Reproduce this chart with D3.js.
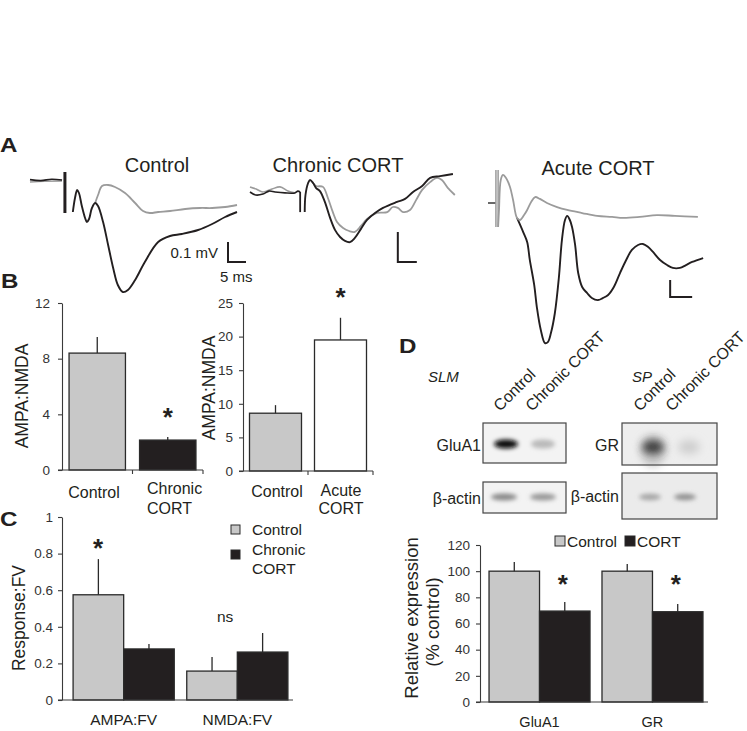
<!DOCTYPE html>
<html><head><meta charset="utf-8">
<script src="https://cdn.jsdelivr.net/npm/d3@7"></script>
<style>
html,body{margin:0;padding:0;background:#fff;}
svg{display:block;font-family:"Liberation Sans",Arial,Helvetica,sans-serif;}
</style></head><body>
<svg id="fig" width="747" height="731"></svg>
<script>
// ---------------- DATA ----------------
// Panel A: field potential traces, [time (ms), amplitude (mV)]
const traceTitles = ["Control", "Chronic CORT", "Acute CORT"];
const controlBaseBlack = [[0,0.002],[3,-0.003],[6,0.004],[8.9,0]];
const controlBaseGrey = [[0,-0.01],[4,-0.006],[8.9,-0.005]];
const controlArtifact = [[9.7,0.04],[9.7,-0.165]];
const controlBlack = [[11.9,-0.16],[12.5,-0.09],[13.1,-0.05],[13.6,-0.065],[14.4,-0.13],[15.3,-0.19],[15.8,-0.21],[16.4,-0.195],[17.2,-0.14],[18.1,-0.115],[18.9,-0.13],[20.3,-0.21],[21.7,-0.325],[23.1,-0.44],[24.4,-0.525],[25.8,-0.56],[27.2,-0.55],[29.2,-0.5],[31.9,-0.41],[35.6,-0.31],[38.9,-0.28],[42.2,-0.27],[46.7,-0.25],[50.6,-0.22],[54.2,-0.185],[57.5,-0.16]];
const controlGrey = [[18.1,-0.115],[18.9,-0.075],[20,-0.03],[21.7,-0.025],[23.6,-0.035],[26.4,-0.065],[29.2,-0.115],[31.4,-0.155],[33.3,-0.165],[35.6,-0.16],[38.9,-0.155],[43.1,-0.145],[47.2,-0.14],[50.6,-0.14],[54.2,-0.135],[57.5,-0.125]];

const chronicBaseBlack = [[0,0],[1.5,-0.01],[3.4,-0.007],[5,0.003],[6.6,0],[9.2,-0.003],[11.8,-0.003],[12.6,0.003],[13.2,0]];
const chronicBaseGrey = [[0,0.017],[1.6,0.01],[3.4,0],[5.8,0.01],[7.9,0.017],[10,0.003],[11.8,-0.003]];
const chronicArtifact = [[13.2,0],[13.2,-0.067]];
const chronicBlack = [[14.4,-0.067],[14.6,-0.01],[15.3,0.03],[15.8,0.04],[16.6,0.03],[17.4,0.013],[18.4,0.003],[19.7,-0.033],[21.1,-0.087],[22.4,-0.127],[23.7,-0.15],[25,-0.163],[26.3,-0.167],[27.6,-0.153],[29.2,-0.123],[30.8,-0.093],[32.9,-0.07],[35,-0.053],[38.7,-0.033],[40.8,-0.023],[42.9,0],[45.3,0.02],[47.4,0.047],[50,0.053],[53.4,0.06]];
const chronicGrey = [[16.6,0.03],[17.4,0.02],[19.2,0.017],[20.5,-0.02],[21.8,-0.067],[22.9,-0.1],[24.5,-0.12],[26.1,-0.13],[27.6,-0.133],[29.2,-0.113],[30.8,-0.09],[33.4,-0.07],[36.1,-0.067],[37.6,-0.05],[38.9,-0.053],[40.3,-0.067],[42.1,-0.06],[43.7,-0.027],[45.3,0.007],[47.4,0.033],[49.2,0.047],[50.5,0.04],[52.1,0.013],[53.9,-0.01]];

const acuteBaseBlack = [[0,0],[1.8,0]];
const acuteArtifactA = [[1.8,0.194],[1.8,-0.141]];
const acuteArtifactB = [[2.3,0.194],[2.3,-0.141]];
const acuteGrey = [[2.3,-0.141],[2.5,-0.041],[2.9,0.135],[3.4,0.165],[4.1,0.147],[5,0.094],[5.7,0.018],[6.6,-0.088],[7.3,-0.1],[8.2,-0.071],[8.9,-0.041],[9.8,0.006],[10.7,0.035],[11.8,0.024],[13.4,0],[15.7,-0.024],[18,-0.041],[21.4,-0.059],[24.8,-0.076],[28.2,-0.082],[30.7,-0.088],[34.5,-0.082],[38.4,-0.071],[42.5,-0.076],[47.7,-0.082]];
const acuteBlack = [[6.6,-0.088],[8,-0.171],[8.9,-0.229],[9.5,-0.335],[10.5,-0.482],[11.1,-0.612],[12,-0.747],[12.95,-0.824],[13.6,-0.818],[14.3,-0.765],[15.2,-0.647],[16.1,-0.441],[16.8,-0.218],[17.5,-0.1],[18,-0.076],[18.6,-0.1],[19.1,-0.141],[19.8,-0.247],[20.5,-0.412],[21.4,-0.494],[22.5,-0.529],[23.6,-0.559],[25,-0.571],[26.1,-0.559],[27.3,-0.541],[28.6,-0.494],[30,-0.412],[31.4,-0.335],[32.7,-0.276],[34.1,-0.247],[35.2,-0.241],[36.4,-0.259],[37.5,-0.288],[39.1,-0.335],[40.7,-0.365],[42,-0.382],[43.6,-0.382],[45,-0.365],[46.4,-0.347],[48.9,-0.324]];

const scaleBarMV = 0.1, scaleBarMS = 5;
const scaleBarCorners = [[55,-0.41],[38.9,-0.233],[41.4,-0.553]];

// Panel B
const bLeftCats = ["Control", "Chronic CORT"];
const bLeftVals = [8.4, 2.15];
const bLeftErrs = [1.15, 0.22];
const bLeftTicks = [0, 4, 8, 12];
const bRightCats = ["Control", "Acute CORT"];
const bRightVals = [8.6, 19.5];
const bRightErrs = [1.2, 3.3];
const bRightTicks = [0, 5, 10, 15, 20, 25];

// Panel C
const cCats = ["AMPA:FV", "NMDA:FV"];
const cSeries = ["Control", "Chronic CORT"];
const cControl = [0.575, 0.158];
const cControlErr = [0.195, 0.077];
const cChronic = [0.279, 0.262];
const cChronicErr = [0.027, 0.104];
const cTicks = [0, 0.2, 0.4, 0.6, 0.8, 1];

// Panel D
const blotLanes = ["Control", "Chronic CORT"];
const gluA1Bands = [0.97, 0.38];
const slmActinBands = [0.55, 0.5];
const grBands = [0.82, 0.3];
const spActinBands = [0.45, 0.52];
const dCats = ["GluA1", "GR"];
const dSeries = ["Control", "CORT"];
const dControl = [100, 100];
const dControlErr = [7, 5.5];
const dCort = [69.5, 69];
const dCortErr = [7, 6];
const dTicks = [0, 20, 40, 60, 80, 100, 120];

// ---------------- DRAWING ----------------
const svg = d3.select("#fig");
const INK = "#231f20", AX = "#3a3a3a", GREYBAR = "#c8c8c8", GREYTRACE = "#9b9b9b";

function text(x, y, s, o = {}) {
  const t = svg.append("text").attr("x", x).attr("y", y).text(s)
    .attr("font-size", o.size || 16).attr("fill", o.fill || INK)
    .attr("text-anchor", o.anchor || "start");
  if (o.weight) t.attr("font-weight", o.weight);
  if (o.style) t.attr("font-style", o.style);
  if (o.transform) t.attr("transform", o.transform).attr("x", 0).attr("y", 0);
  return t;
}
function letter(x, y, s) {
  text(0, 0, s, {size: 21, weight: "bold", transform: `translate(${x},${y}) scale(1.15,1)`});
}
function star(x, y, size = 26) { text(x, y, "*", {size, weight: "bold", anchor: "middle"}); }

letter(0, 152, "A"); letter(1, 288, "B"); letter(0, 526, "C"); letter(399, 353, "D");

// ----- Panel A -----
const aPanels = [
  {x0: 30, pxms: 3.6, y0: 180, pxmv: 200, title: [157, 172]},
  {x0: 250, pxms: 3.8, y0: 192, pxmv: 300, title: [338, 172]},
  {x0: 488, pxms: 4.4, y0: 203, pxmv: 170, title: [598, 175]}
];
const aScales = aPanels.map(p => ({
  x: d3.scaleLinear().domain([0, 50]).range([p.x0, p.x0 + 50 * p.pxms]),
  y: d3.scaleLinear().domain([0, -0.5]).range([p.y0, p.y0 + 0.5 * p.pxmv])
}));
function trace(i, data, color, w, curve = d3.curveCatmullRom.alpha(0.5)) {
  const s = aScales[i];
  const line = d3.line().x(d => s.x(d[0])).y(d => s.y(d[1])).curve(curve);
  svg.append("path").attr("d", line(data)).attr("fill", "none")
    .attr("stroke", color).attr("stroke-width", w).attr("stroke-linejoin", "round");
}
traceTitles.forEach((t, i) => text(aPanels[i].title[0], aPanels[i].title[1], t, {size: 20, anchor: "middle"}));

// control
trace(0, controlBaseGrey, GREYTRACE, 1.6);
trace(0, controlBaseBlack, INK, 1.6);
trace(0, controlArtifact, INK, 3, d3.curveLinear);
trace(0, controlGrey, GREYTRACE, 1.8);
trace(0, controlBlack, INK, 1.9);
// chronic
trace(1, chronicBaseGrey, GREYTRACE, 1.6);
trace(1, chronicGrey, GREYTRACE, 1.8);
trace(1, chronicBaseBlack, INK, 1.6);
trace(1, chronicArtifact, INK, 1.8, d3.curveLinear);
trace(1, chronicBlack, INK, 1.9);
// acute
trace(2, acuteBaseBlack, "#444", 1.6, d3.curveLinear);
trace(2, acuteBlack, INK, 1.9);
trace(2, acuteArtifactA, GREYTRACE, 1.5, d3.curveLinear);
trace(2, acuteArtifactB, GREYTRACE, 1.5, d3.curveLinear);
trace(2, acuteGrey, GREYTRACE, 1.8);
// scale bars
scaleBarCorners.forEach((c, i) => {
  const s = aScales[i];
  const pts = [[c[0], c[1] + scaleBarMV], c, [c[0] + scaleBarMS, c[1]]];
  svg.append("path").attr("d", d3.line().x(d => s.x(d[0])).y(d => s.y(d[1]))(pts))
    .attr("fill", "none").attr("stroke", INK).attr("stroke-width", 2);
});
text(218, 258, "0.1 mV", {size: 15, anchor: "end"});
text(220, 282, "5 ms", {size: 15});

// ----- generic axis helper -----
function yAxis(scale, x, ticks, fmt, pad) {
  const g = svg.append("g").attr("transform", `translate(${x},0)`)
    .call(d3.axisLeft(scale).tickValues(ticks).tickFormat(fmt).tickSize(4).tickSizeOuter(0).tickPadding(pad));
  g.select(".domain").attr("stroke", AX).attr("stroke-width", 1.1);
  g.selectAll(".tick line").attr("stroke", AX).attr("stroke-width", 1.1);
  g.selectAll(".tick text").attr("font-size", 13.5).attr("fill", "#333")
    .attr("font-family", '"Liberation Sans",Arial,sans-serif');
  return g;
}
function baseline(x0, x1, y, catTicks) {
  svg.append("line").attr("x1", x0).attr("x2", x1).attr("y1", y).attr("y2", y)
    .attr("stroke", AX).attr("stroke-width", 1.1);
  (catTicks || []).forEach(tx => svg.append("line").attr("x1", tx).attr("x2", tx)
    .attr("y1", y).attr("y2", y + 4).attr("stroke", AX).attr("stroke-width", 1.1));
}
function bar(x, w, y, y0, fill) {
  svg.append("rect").attr("x", x).attr("y", y).attr("width", w).attr("height", y0 - y)
    .attr("fill", fill).attr("stroke", "#2a2a2a").attr("stroke-width", 1.3);
}
function err(x, yTop, yBar) {
  svg.append("line").attr("x1", x).attr("x2", x).attr("y1", yTop).attr("y2", yBar)
    .attr("stroke", "#2a2a2a").attr("stroke-width", 1.3);
}

// ----- Panel B left -----
{
  const y = d3.scaleLinear().domain([0, 12]).range([470, 303]);
  const x = d3.scaleBand().domain(bLeftCats).range([62, 203]).paddingInner(0.2).paddingOuter(0.1);
  const fills = [GREYBAR, INK];
  bLeftCats.forEach((c, i) => {
    bar(x(c), x.bandwidth(), y(bLeftVals[i]), y(0), fills[i]);
    err(x(c) + x.bandwidth() / 2, y(bLeftVals[i] + bLeftErrs[i]), y(bLeftVals[i]));
  });
  yAxis(y, 62, bLeftTicks, d3.format("d"), 8);
  baseline(58, 203, y(0), [x.step() + 62, 203]);
  star(x(bLeftCats[1]) + x.bandwidth() / 2, 426);
  text(94, 498, "Control", {anchor: "middle"});
  text(147, 494, "Chronic"); text(147, 514, "CORT");
  text(0, 0, "AMPA:NMDA", {size: 17.5, anchor: "middle", transform: "translate(28,396) rotate(-90)"});
}
// ----- Panel B right -----
{
  const y = d3.scaleLinear().domain([0, 25]).range([471, 303]);
  const x = d3.scaleBand().domain(bRightCats).range([243, 373]).paddingInner(0.2).paddingOuter(0.1);
  const fills = [GREYBAR, "#ffffff"];
  bRightCats.forEach((c, i) => {
    bar(x(c), x.bandwidth(), y(bRightVals[i]), y(0), fills[i]);
    err(x(c) + x.bandwidth() / 2, y(bRightVals[i] + bRightErrs[i]), y(bRightVals[i]));
  });
  yAxis(y, 243, bRightTicks, d3.format("d"), 6);
  baseline(239, 373, y(0), [243 + x.step(), 373]);
  star(x(bRightCats[1]) + x.bandwidth() / 2, 306);
  text(277, 497, "Control", {anchor: "middle"});
  text(341, 496, "Acute", {anchor: "middle"}); text(341, 514, "CORT", {anchor: "middle"});
  text(0, 0, "AMPA:NMDA", {size: 17.5, anchor: "middle", transform: "translate(215,388) rotate(-90)"});
}
// ----- Panel C -----
{
  const y = d3.scaleLinear().domain([0, 1]).range([700, 517]);
  const x = d3.scaleBand().domain(cCats).range([64, 297]).paddingInner(0.11).paddingOuter(0.08);
  const xs = d3.scaleBand().domain(cSeries).range([0, x.bandwidth()]);
  cCats.forEach((c, i) => {
    const vals = [cControl[i], cChronic[i]], errs = [cControlErr[i], cChronicErr[i]];
    const fills = [GREYBAR, INK];
    cSeries.forEach((s, j) => {
      const bx = x(c) + xs(s);
      bar(bx, xs.bandwidth(), y(vals[j]), y(0), fills[j]);
      err(bx + xs.bandwidth() / 2, y(vals[j] + errs[j]), y(vals[j]));
    });
    text(x(c) + x.bandwidth() / 2, 725, c, {size: 15.5, anchor: "middle"});
  });
  yAxis(y, 62, cTicks, d => d === 0 || d === 1 ? d3.format("d")(d) : d3.format(".1f")(d), 5);
  baseline(58, 293, y(0));
  star(98, 557);
  text(217, 622, "ns", {size: 15.5});
  // legend
  [[GREYBAR, 525], [INK, 550]].forEach(([f, yy]) => svg.append("rect").attr("x", 231).attr("y", yy)
    .attr("width", 9).attr("height", 9).attr("fill", f).attr("stroke", "#2a2a2a").attr("stroke-width", 1));
  text(252, 535, "Control", {size: 15.5});
  text(252, 555, "Chronic", {size: 15.5});
  text(252, 574, "CORT", {size: 15.5});
  text(0, 0, "Response:FV", {size: 17.5, anchor: "middle", transform: "translate(25,618) rotate(-90)"});
}
// ----- Panel D: blots -----
{
  const defs = svg.append("defs");
  defs.append("filter").attr("id", "b2").attr("x", "-50%").attr("y", "-100%").attr("width", "200%").attr("height", "300%")
    .append("feGaussianBlur").attr("stdDeviation", 2.2);
  defs.append("filter").attr("id", "b4").attr("x", "-50%").attr("y", "-100%").attr("width", "200%").attr("height", "300%")
    .append("feGaussianBlur").attr("stdDeviation", 4);
  text(428, 382, "SLM", {size: 15, style: "italic"});
  text(632, 382, "SP", {size: 15, style: "italic"});
  [[500, 412], [532, 412], [640, 412], [672, 412]].forEach((p, i) =>
    text(0, 0, blotLanes[i % 2], {size: 16, transform: `translate(${p[0]},${p[1]}) rotate(-45)`}));
  const boxes = [
    {x: 483, y: 423, w: 83, h: 40, fill: "#f3f3f3", label: "GluA1", lx: 481, ly: 451, bands: gluA1Bands, cx: [506, 543], cy: 444, rx: 12, ry: 4.5, f: "b2"},
    {x: 483, y: 482, w: 83, h: 31, fill: "#f3f3f3", label: "β-actin", lx: 481, ly: 504, bands: slmActinBands, cx: [504, 543], cy: 497, rx: 13, ry: 3.5, f: "b2"},
    {x: 622, y: 423, w: 95, h: 42, fill: "#eeeeee", label: "GR", lx: 619, ly: 451, bands: grBands, cx: [653, 689], cy: 447, rx: 11, ry: 7, f: "b4"},
    {x: 622, y: 473, w: 95, h: 46, fill: "#ebebeb", label: "β-actin", lx: 619, ly: 502, bands: spActinBands, cx: [650, 685], cy: 497, rx: 11, ry: 3.2, f: "b2"}
  ];
  boxes.forEach(b => {
    svg.append("rect").attr("x", b.x).attr("y", b.y).attr("width", b.w).attr("height", b.h)
      .attr("fill", b.fill);
    const g = svg.append("g");
    if (b.label === "GR") {
      g.append("ellipse").attr("cx", b.cx[0]).attr("cy", b.cy + 4).attr("rx", 12).attr("ry", 16)
        .attr("fill", "#c8c8c8").attr("filter", "url(#b4)");
    }
    b.bands.forEach((v, i) => g.append("ellipse").attr("cx", b.cx[i]).attr("cy", b.cy)
      .attr("rx", b.rx).attr("ry", b.ry).attr("fill", d3.interpolateGreys(v)).attr("filter", `url(#${b.f})`));
    svg.append("rect").attr("x", b.x).attr("y", b.y).attr("width", b.w).attr("height", b.h)
      .attr("fill", "none").attr("stroke", "#444").attr("stroke-width", 1.2);
    text(b.lx, b.ly, b.label, {size: 16, anchor: "end"});
  });
}
// ----- Panel D: bars -----
{
  const y = d3.scaleLinear().domain([0, 120]).range([702, 545]);
  const x = d3.scaleBand().domain(dCats).range([480, 712]).paddingInner(0.106).paddingOuter(0.08);
  const xs = d3.scaleBand().domain(dSeries).range([0, x.bandwidth()]);
  dCats.forEach((c, i) => {
    const vals = [dControl[i], dCort[i]], errs = [dControlErr[i], dCortErr[i]];
    const fills = [GREYBAR, INK];
    dSeries.forEach((s, j) => {
      const bx = x(c) + xs(s);
      bar(bx, xs.bandwidth(), y(vals[j]), y(0), fills[j]);
      err(bx + xs.bandwidth() / 2, y(vals[j] + errs[j]), y(vals[j]));
    });
    star(x(c) + xs(dSeries[1]) + xs.bandwidth() / 2 - 2, 593);
    text(x(c) + x.bandwidth() / 2, 727, c, {size: 14.5, anchor: "middle"});
  });
  yAxis(y, 480, dTicks, d3.format("d"), 6);
  baseline(476, 708, y(0));
  [[GREYBAR, 555, "Control", 567], [INK, 625, "CORT", 637]].forEach(([f, rx, lab, tx]) => {
    svg.append("rect").attr("x", rx).attr("y", 536).attr("width", 10).attr("height", 10)
      .attr("fill", f).attr("stroke", "#2a2a2a").attr("stroke-width", 1);
    text(tx, 547, lab, {size: 15.5});
  });
  text(0, 0, "Relative expression", {size: 18.5, anchor: "middle", transform: "translate(418,618) rotate(-90)"});
  text(0, 0, "(% control)", {size: 18.5, anchor: "middle", transform: "translate(439,622) rotate(-90)"});
}
</script>
</body></html>
